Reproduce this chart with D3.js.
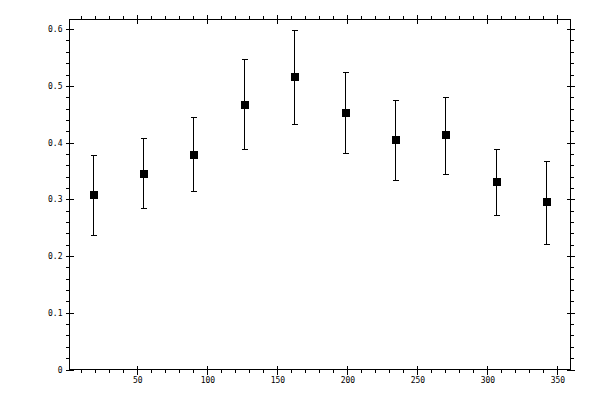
<!DOCTYPE html>
<html>
<head>
<meta charset="utf-8">
<script src="https://cdn.jsdelivr.net/npm/d3@7"></script>
<style>
  html, body { margin: 0; padding: 0; background: #fff; }
  svg { display: block; }
  text { font-family: "DejaVu Sans Mono", monospace; font-size: 8px; fill: #000; }
</style>
</head>
<body>
<svg id="chart" width="600" height="400"></svg>
<script>
const xValues = [18, 54, 90, 126, 162, 198, 234, 270, 306, 342];
const yValues = [0.307, 0.344, 0.379, 0.467, 0.515, 0.452, 0.404, 0.413, 0.330, 0.295];
const yUpper  = [0.378, 0.408, 0.444, 0.547, 0.598, 0.524, 0.475, 0.480, 0.388, 0.367];
const yLower  = [0.237, 0.283, 0.313, 0.388, 0.432, 0.380, 0.334, 0.344, 0.272, 0.221];
const xTicks = [50, 100, 150, 200, 250, 300, 350];
const xTickLabels = ["50", "100", "150", "200", "250", "300", "350"];
const xMinorTicks = d3.range(10, 360, 10);
const yTicks = [0, 0.1, 0.2, 0.3, 0.4, 0.5, 0.6];
const yTickLabels = ["0", "0.1", "0.2", "0.3", "0.4", "0.5", "0.6"];
const yMinorTicks = d3.range(0, 31).map(i => i * 0.02);

const svg = d3.select("#chart");
const L = 69.5, R = 570.5, T = 19.5, B = 369.5;
const x = d3.scaleLinear().domain([1.55, 359.35]).range([L, R]);
const y = d3.scaleLinear().domain([0, 0.617]).range([B, T]);

function drawAxis(axisFn, scale, transform, ticks, size, labels) {
  const ax = axisFn(scale).tickValues(ticks).tickSizeInner(size).tickSizeOuter(0);
  if (labels) ax.tickFormat((d, i) => labels[i]).tickPadding(3);
  else ax.tickFormat("");
  const g = svg.append("g").attr("transform", transform).call(ax);
  g.select(".domain").remove();
  g.selectAll("line").attr("stroke", "#000").attr("stroke-width", 1).attr("shape-rendering", "crispEdges");
  g.selectAll("text").attr("font-family", "DejaVu Sans Mono, monospace").attr("font-size", 8).attr("fill", "#000");
  return g;
}

// minor ticks (outward)
drawAxis(d3.axisBottom, x, `translate(0,${B})`, xMinorTicks, 3.5, null);
drawAxis(d3.axisTop, x, `translate(0,${T})`, xMinorTicks, 3.5, null);
drawAxis(d3.axisLeft, y, `translate(${L},0)`, yMinorTicks, 3.5, null);
drawAxis(d3.axisRight, y, `translate(${R},0)`, yMinorTicks, 3.5, null);
// major ticks outward with labels
drawAxis(d3.axisBottom, x, `translate(0,${B})`, xTicks, 5, xTickLabels);
drawAxis(d3.axisTop, x, `translate(0,${T})`, xTicks, 5, null);
drawAxis(d3.axisLeft, y, `translate(${L},0)`, yTicks, 4, yTickLabels);
drawAxis(d3.axisRight, y, `translate(${R},0)`, yTicks, 4, null);
// major ticks inward part
drawAxis(d3.axisBottom, x, `translate(0,${B})`, xTicks, -4, null);
drawAxis(d3.axisTop, x, `translate(0,${T})`, xTicks, -4, null);
drawAxis(d3.axisLeft, y, `translate(${L},0)`, yTicks, -4, null);
drawAxis(d3.axisRight, y, `translate(${R},0)`, yTicks, -4, null);

// frame
svg.append("rect").attr("x", L).attr("y", T).attr("width", R - L).attr("height", B - T)
  .attr("fill", "none").attr("stroke", "#000").attr("stroke-width", 1).attr("shape-rendering", "crispEdges");

const data = xValues.map((v, i) => ({ x: v, y: yValues[i], hi: yUpper[i], lo: yLower[i] }));
const g = svg.append("g").attr("stroke", "#000").attr("stroke-width", 1).attr("shape-rendering", "crispEdges");
const cap = 3;
data.forEach(d => {
  const cx = Math.round(x(d.x)) + 0.5;
  g.append("line").attr("x1", cx).attr("x2", cx).attr("y1", y(d.hi)).attr("y2", y(d.lo));
  g.append("line").attr("x1", cx - cap).attr("x2", cx + cap).attr("y1", y(d.hi)).attr("y2", y(d.hi));
  g.append("line").attr("x1", cx - cap).attr("x2", cx + cap).attr("y1", y(d.lo)).attr("y2", y(d.lo));
});
svg.append("g").selectAll("rect.pt").data(data).join("rect")
  .attr("class", "pt")
  .attr("x", d => Math.round(x(d.x)) + 0.5 - 4)
  .attr("y", d => y(d.y) - 4)
  .attr("width", 8).attr("height", 8)
  .attr("fill", "#000").attr("shape-rendering", "crispEdges");
</script>
</body>
</html>
